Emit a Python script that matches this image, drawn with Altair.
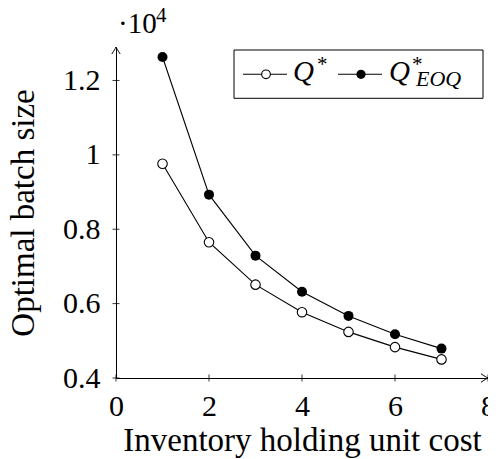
import altair as alt
import pandas as pd

# ---- data ----
cost = [1, 2, 3, 4, 5, 6, 7]
q_star = [9760, 7650, 6510, 5770, 5240, 4830, 4500]
q_eoq = [12630, 8930, 7290, 6320, 5670, 5175, 4790]
x_ticks = [0, 2, 4, 6, 8]
y_ticks = [4000, 6000, 8000, 10000, 12000]

W, H = 372, 331
FONT = "Liberation Serif"

df_q = pd.DataFrame({"cost": cost, "value": q_star})
df_e = pd.DataFrame({"cost": cost, "value": q_eoq})
df_xt = pd.DataFrame({"cost": x_ticks})
df_yt = pd.DataFrame({"value": y_ticks})
dummy = pd.DataFrame({"a": [0]})

xs = alt.Scale(domain=[0, 8], nice=False, zero=False)
ys = alt.Scale(domain=[4000, 12900], nice=False, zero=False)

x_axis = alt.Axis(
    values=x_ticks, ticks=False, tickSize=0, grid=False,
    domainColor="black", domainWidth=1,
    labelFont=FONT, labelFontSize=30, labelColor="black", labelPadding=13,
    labelFlush=False, labelOverlap=False,
    title="Inventory holding unit cost", titleFont=FONT, titleFontSize=33,
    titleFontWeight="normal", titleColor="black",
    titleX=W / 2, titleY=72, titleBaseline="alphabetic", titleAlign="center",
    titleAngle=0,
)
y_axis = alt.Axis(
    values=y_ticks, ticks=False, tickSize=0, grid=False,
    domainColor="black", domainWidth=1,
    labelFont=FONT, labelFontSize=30, labelColor="black", labelPadding=16,
    labelFlush=False, labelOverlap=False,
    labelExpr="format(datum.value / 10000, '~g')",
    title="Optimal batch size", titleFont=FONT, titleFontSize=33,
    titleFontWeight="normal", titleColor="black",
    titleX=-83, titleY=H / 2, titleBaseline="alphabetic", titleAlign="center",
    titleAngle=270,
)

X = alt.X("cost:Q", scale=xs, axis=x_axis)
Y = alt.Y("value:Q", scale=ys, axis=y_axis)

line_q = alt.Chart(df_q).mark_line(color="black", strokeWidth=1.1).encode(x=X, y=Y)
line_e = alt.Chart(df_e).mark_line(color="black", strokeWidth=1.1).encode(x=X, y=Y)
pts_q = alt.Chart(df_q).mark_circle(
    size=90, fill="white", stroke="black", strokeWidth=1.1, opacity=1
).encode(x=X, y=Y)
pts_e = alt.Chart(df_e).mark_circle(
    size=100, color="black", opacity=1
).encode(x=X, y=Y)

# tick marks crossing the axes
xt = alt.Chart(df_xt).mark_rule(color="black", strokeWidth=0.8).encode(
    x=X, y=alt.value(H - 3.5), y2=alt.value(H + 3.5)
)
yt = alt.Chart(df_yt).mark_rule(color="black", strokeWidth=0.8).encode(
    y=Y, x=alt.value(-3.5), x2=alt.value(3.5)
)

arrow_path = "M -1 -0.6 C -0.55 -0.3 -0.2 -0.08 0 0 C -0.2 0.08 -0.55 0.3 -1 0.6"
arrow_x = alt.Chart(dummy).mark_point(
    shape=arrow_path, size=196, filled=False, stroke="black", strokeWidth=1, opacity=1
).encode(x=alt.value(W), y=alt.value(H))
arrow_y = alt.Chart(dummy).mark_point(
    shape=arrow_path, size=196, filled=False, stroke="black", strokeWidth=1,
    opacity=1, angle=270
).encode(x=alt.value(0), y=alt.value(0))

# exponent label
exp_base = alt.Chart(dummy).mark_text(
    text="·10", font=FONT, fontSize=29, align="left", baseline="alphabetic", color="black"
).encode(x=alt.value(2), y=alt.value(-13.7))
exp_pow = alt.Chart(dummy).mark_text(
    text="4", font=FONT, fontSize=21, align="left", baseline="alphabetic", color="black"
).encode(x=alt.value(40), y=alt.value(-25.5))

# legend
box = alt.Chart(dummy).mark_rect(
    fill="white", stroke="black", strokeWidth=1
).encode(x=alt.value(118), x2=alt.value(367), y=alt.value(3), y2=alt.value(51.3))
leg_l1 = alt.Chart(dummy).mark_rule(color="black", strokeWidth=1.1).encode(
    x=alt.value(127), x2=alt.value(171), y=alt.value(27.3)
)
leg_l2 = alt.Chart(dummy).mark_rule(color="black", strokeWidth=1.1).encode(
    x=alt.value(222), x2=alt.value(266), y=alt.value(27.3)
)
leg_p1 = alt.Chart(dummy).mark_circle(
    size=75, fill="white", stroke="black", strokeWidth=1.1, opacity=1
).encode(x=alt.value(150), y=alt.value(27.3))
leg_p2 = alt.Chart(dummy).mark_circle(
    size=85, color="black", opacity=1
).encode(x=alt.value(245), y=alt.value(27.3))

def txt(t, x, y, size, style="italic"):
    return alt.Chart(dummy).mark_text(
        text=t, font=FONT, fontSize=size, fontStyle=style, align="left",
        baseline="alphabetic", color="black"
    ).encode(x=alt.value(x), y=alt.value(y))

leg_t = [
    txt("Q", 177, 34, 29),
    txt("*", 201, 24, 21, "normal"),
    txt("Q", 273, 34, 29),
    txt("*", 296, 24, 21, "normal"),
    txt("EOQ", 300, 39, 22),
]

chart = alt.layer(
    xt, yt, line_q, line_e, pts_q, pts_e, arrow_x, arrow_y,
    exp_base, exp_pow, box, leg_l1, leg_l2, leg_p1, leg_p2, *leg_t
).properties(
    width=W, height=H,
    autosize=alt.AutoSizeParams(type="none"),
    padding={"left": 108, "top": 39, "right": 0, "bottom": 80},
).configure_view(
    stroke=None
).configure_axis(
    labelFont=FONT, titleFont=FONT
).configure_text(
    font=FONT
)

chart.save("out.html", embed_options={"renderer": "svg", "actions": False})
